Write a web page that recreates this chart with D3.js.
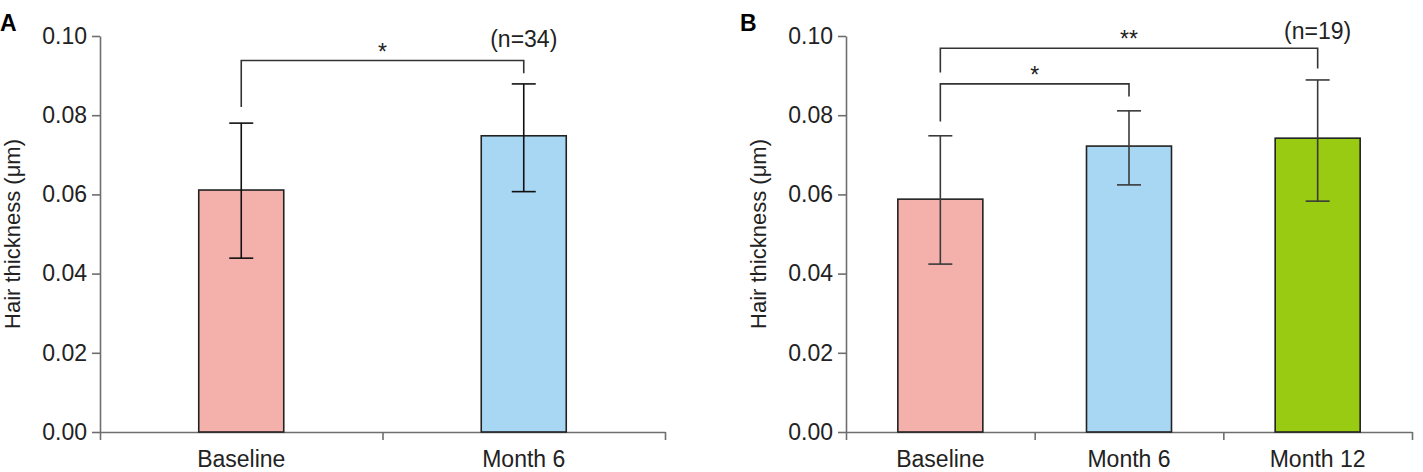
<!DOCTYPE html>
<html>
<head>
<meta charset="utf-8">
<script src="https://cdn.jsdelivr.net/npm/d3@7"></script>
<style>
  body { margin: 0; background: #fff; }
  svg { display: block; font-family: "Liberation Sans", Arial, sans-serif; }
</style>
</head>
<body>
<svg id="chart" width="1423" height="472"></svg>
<script>
// values
const yTicks = [0, 0.02, 0.04, 0.06, 0.08, 0.10];
const barColors = ["#f4b1ac", "#a7d7f3", "#99cb12"];

const panelALabels = ["Baseline", "Month 6"];
const panelAMeans = [0.0611, 0.0748];
const panelAUpper = [0.078, 0.0879];
const panelALower = [0.0439, 0.0607];
const panelABrackets = [
  { from: 0, to: 1, top: 0.0938, leftEnd: 0.0821, rightEnd: 0.0906, mark: "*" }
];

const panelBLabels = ["Baseline", "Month 6", "Month 12"];
const panelBMeans = [0.0588, 0.0722, 0.0742];
const panelBUpper = [0.0748, 0.0811, 0.0889];
const panelBLower = [0.0424, 0.0624, 0.0583];
const panelBBrackets = [
  { from: 0, to: 2, top: 0.0969, leftEnd: 0.0908, rightEnd: 0.0918, mark: "**" },
  { from: 0, to: 1, top: 0.0879, leftEnd: 0.0784, rightEnd: 0.0847, mark: "*" }
];

const svg = d3.select("#chart");
const axisColor = "#6e6e6e";

function drawPanel(opt) {
  const g = svg.append("g");

  var y = d3.scaleLinear().domain([0, 0.10]).range([432, 36]);
  var x = d3.scaleBand().domain(opt.labels).range([opt.left, opt.right]).padding(0);
  // band edges for the bottom ticks
  var edges = d3.scaleLinear().domain([0, opt.labels.length]).range([opt.left, opt.right]);

  // Y axis
  const yAxis = g.append("g")
    .attr("transform", "translate(" + opt.left + ",0)")
    .call(d3.axisLeft(y).tickValues(yTicks).tickFormat(d3.format(".2f"))
      .tickSize(8).tickSizeOuter(0).tickPadding(5));
  yAxis.select(".domain").attr("stroke", axisColor).attr("stroke-width", 1.6);
  yAxis.selectAll(".tick line").attr("stroke", axisColor).attr("stroke-width", 1.6);
  yAxis.selectAll(".tick text").attr("fill", "#222").style("font-size", "23px");

  // X axis: ticks on band edges, labels at band centres
  const xAxis = g.append("g")
    .attr("transform", "translate(0,432)")
    .call(d3.axisBottom(edges).tickValues(d3.range(opt.labels.length + 1))
      .tickFormat("").tickSize(8).tickSizeOuter(0));
  xAxis.select(".domain").attr("stroke", axisColor).attr("stroke-width", 1.6);
  xAxis.selectAll(".tick line").attr("stroke", axisColor).attr("stroke-width", 1.6);

  g.selectAll(".cat")
    .data(opt.labels)
    .enter()
    .append("text")
    .attr("x", (d) => x(d) + x.bandwidth() / 2)
    .attr("y", 467)
    .attr("text-anchor", "middle")
    .attr("fill", "#222")
    .style("font-size", "23px")
    .text((d) => d);

  // bars
  const barW = 85;
  g.selectAll(".bar")
    .data(opt.means)
    .enter()
    .append("rect")
    .attr("x", (d, i) => x(opt.labels[i]) + x.bandwidth() / 2 - barW / 2)
    .attr("y", (d) => y(d))
    .attr("width", barW)
    .attr("height", (d) => y(0) - y(d))
    .attr("fill", (d, i) => barColors[i])
    .attr("stroke", "#222")
    .attr("stroke-width", 1.6);

  // error bars
  const capW = 24;
  opt.means.forEach(function (m, i) {
    const cx = x(opt.labels[i]) + x.bandwidth() / 2;
    const eb = g.append("g").attr("stroke", opt.errColor).attr("stroke-width", 1.6);
    eb.append("line").attr("x1", cx).attr("x2", cx)
      .attr("y1", y(opt.upper[i])).attr("y2", y(opt.lower[i]));
    eb.append("line").attr("x1", cx - capW / 2).attr("x2", cx + capW / 2)
      .attr("y1", y(opt.upper[i])).attr("y2", y(opt.upper[i]));
    eb.append("line").attr("x1", cx - capW / 2).attr("x2", cx + capW / 2)
      .attr("y1", y(opt.lower[i])).attr("y2", y(opt.lower[i]));
  });

  // significance brackets
  opt.brackets.forEach(function (b) {
    const x1 = x(opt.labels[b.from]) + x.bandwidth() / 2;
    const x2 = x(opt.labels[b.to]) + x.bandwidth() / 2;
    g.append("path")
      .attr("fill", "none")
      .attr("stroke", "#333")
      .attr("stroke-width", 1.6)
      .attr("d", "M" + x1 + "," + y(b.leftEnd) + "V" + y(b.top) + "H" + x2 + "V" + y(b.rightEnd));
    g.append("text")
      .attr("x", (x1 + x2) / 2)
      .attr("y", y(b.top) - 1)
      .attr("text-anchor", "middle")
      .attr("fill", "#222")
      .style("font-size", "23px")
      .text(b.mark);
  });

  // (n=..)
  const last = opt.labels[opt.labels.length - 1];
  g.append("text")
    .attr("x", x(last) + x.bandwidth() / 2)
    .attr("y", opt.nY)
    .attr("text-anchor", "middle")
    .attr("fill", "#222")
    .style("font-size", "23px")
    .text(opt.n);

  // y label
  g.append("text")
    .attr("transform", "translate(" + opt.labelX + ",234)rotate(-90)")
    .attr("text-anchor", "middle")
    .attr("fill", "#222")
    .style("font-size", "22px")
    .text("Hair thickness (μm)");

  // panel letter
  g.append("text")
    .attr("x", opt.letterX)
    .attr("y", 31)
    .attr("text-anchor", "start")
    .style("font-size", "23px")
    .style("font-weight", "bold")
    .text(opt.letter);
}

drawPanel({
  labels: panelALabels, means: panelAMeans, upper: panelAUpper, lower: panelALower,
  brackets: panelABrackets, left: 100, right: 665, errColor: "#111",
  n: "(n=34)", nY: 47, labelX: 20, letter: "A", letterX: 0
});

drawPanel({
  labels: panelBLabels, means: panelBMeans, upper: panelBUpper, lower: panelBLower,
  brackets: panelBBrackets, left: 846, right: 1412, errColor: "#3a3a3a",
  n: "(n=19)", nY: 39, labelX: 766, letter: "B", letterX: 740
});
</script>
</body>
</html>
